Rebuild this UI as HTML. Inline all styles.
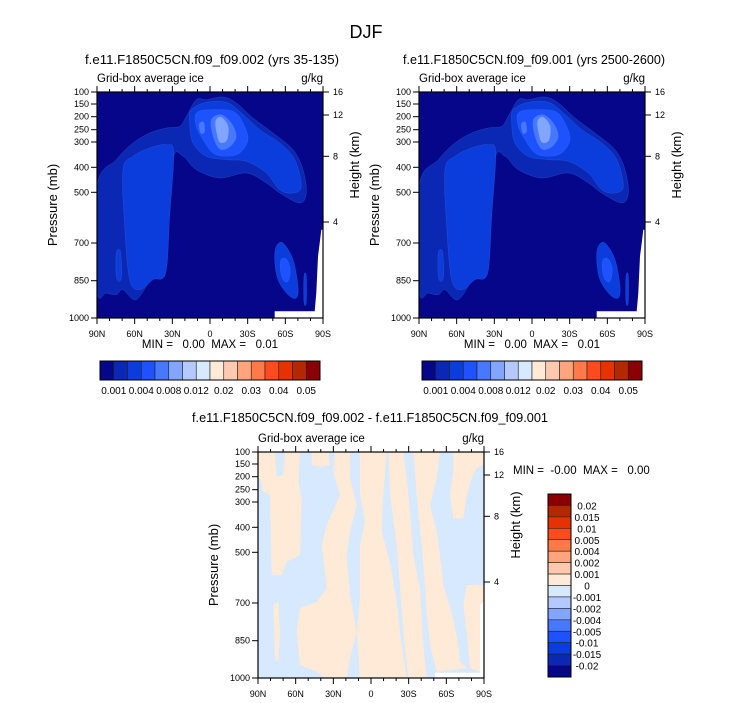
<!DOCTYPE html>
<html><head><meta charset="utf-8"><style>
html,body{margin:0;padding:0;background:#fff;}
svg{display:block;font-family:"Liberation Sans",sans-serif;}
.pre{white-space:pre;}
</style></head><body>
<svg id="s" width="733" height="703" viewBox="0 0 733 703">
<text x="366" y="38" font-size="18" text-anchor="middle">DJF</text>
</svg>
<script>
const NS='http://www.w3.org/2000/svg';
const svg=document.getElementById('s');
// ---- data arrays ----
const pressureTicks=[100,150,200,250,300,400,500,700,850,1000];
const heightTicks=[16,12,8,4];
const latTicks=['90N','60N','30N','0','30S','60S','90S'];
const absColors=['#06068a','#0a28b4','#0a3ddc','#1e52ff','#4679ff','#82a6ff','#b4c9ff','#d7e9ff','#ffe9d7','#ffc9b0','#ffa47d','#ff7a48','#ff4b1e','#e53200','#b42800','#8b0000'];
const absLabels=['0.001','0.004','0.008','0.012','0.02','0.03','0.04','0.05'];
const diffLabels=['0.02','0.015','0.01','0.005','0.004','0.002','0.001','0','-0.001','-0.002','-0.004','-0.005','-0.01','-0.015','-0.02'];
const absRegions=[
 {lv:1,pts:[[172,380],[230,300],[280,250],[330,220],[380,205],[420,200],[440,170],[470,120],[500,120],[550,112],[590,130],[640,175],[700,220],[760,270],[790,330],[800,400],[780,430],[720,400],[680,370],[620,340],[540,355],[470,330],[430,290],[400,300],[380,550],[375,640],[340,650],[290,720],[250,690],[230,705],[200,700],[172,690]]},
 {lv:2,pts:[[250,330],[280,290],[330,265],[380,255],[402,280],[390,470],[378,640],[340,660],[300,690],[270,660],[255,500]]},
 {lv:2,pts:[[455,150],[500,128],[560,128],[605,160],[660,210],[720,250],[765,300],[785,380],[760,400],[720,390],[680,340],[620,305],[560,300],[500,290],[460,250],[450,190]]},
 {lv:2,pts:[[230,580],[242,575],[246,640],[240,665],[230,650]]},
 {lv:2,pts:[[710,560],[730,550],[760,600],[775,680],[770,715],[745,705],[715,660],[705,600]]},
 {lv:2,pts:[[793,650],[800,648],[800,728],[793,728]]},
 {lv:3,pts:[[470,160],[510,150],[580,155],[610,190],[625,240],[600,280],[560,290],[520,280],[490,240],[470,200]]},
 {lv:3,pts:[[724,600],[740,598],[752,630],[745,665],[730,660],[722,630]]},
 {lv:4,pts:[[480,190],[492,188],[495,215],[485,222],[479,205]]},
 {lv:4,pts:[[515,180],[545,165],[575,190],[590,230],[570,262],[540,268],[520,230]]},
 {lv:5,pts:[[528,182],[545,172],[566,200],[562,242],[540,248],[529,212]]}
];
const absMissing=[[852,510],[845,510],[840,550],[835,590],[830,700],[825,755],[705,755],[705,777],[852,777]];
const diffPeach=[
 [[24,21],[75,21],[80,95],[100,90],[105,21],[150,21],[145,110],[155,160],[150,330],[110,350],[95,390],[65,390],[60,150],[40,140],[30,100],[24,100]],
 [[185,21],[235,21],[240,60],[215,65],[185,60]],
 [[255,21],[300,21],[300,100],[320,180],[300,260],[290,330],[300,450],[320,560],[300,640],[290,700],[225,700],[200,680],[150,660],[140,560],[150,490],[200,470],[230,430],[215,300],[230,240],[270,150],[250,80]],
 [[330,21],[410,21],[400,150],[395,260],[420,350],[440,470],[450,560],[470,700],[330,700],[320,560],[330,460],[330,300],[345,230],[330,150]],
 [[415,21],[460,21],[470,100],[480,200],[490,330],[510,430],[520,600],[530,700],[475,700],[460,560],[450,420],[440,300],[420,150]],
 [[490,21],[570,21],[560,100],[540,180],[560,260],[570,330],[580,420],[610,520],[625,600],[630,650],[650,670],[560,680],[540,600],[530,500],[520,360],[510,250],[500,150]],
 [[610,21],[700,21],[700,60],[680,70],[665,100],[650,150],[640,220],[610,220],[600,150],[610,80]],
 [[650,420],[700,420],[700,480],[690,500],[690,680],[660,670],[650,560],[640,480]],
 [[70,480],[85,470],[90,560],[85,650],[75,640]]
];
const diffMissing=[[700,470],[690,480],[690,683],[555,683],[555,701],[700,701]];

function el(tag,attrs,parent){const e=document.createElementNS(NS,tag);for(const k in attrs)e.setAttribute(k,attrs[k]);(parent||svg).appendChild(e);return e;}
function smoothPath(p){let d='M'+p[0][0].toFixed(1)+','+p[0][1].toFixed(1);const n=p.length;
 for(let i=0;i<n;i++){const p0=p[(i-1+n)%n],p1=p[i],p2=p[(i+1)%n],p3=p[(i+2)%n];
  d+='C'+(p1[0]+(p2[0]-p0[0])/6).toFixed(1)+','+(p1[1]+(p2[1]-p0[1])/6).toFixed(1)+' '+(p2[0]-(p3[0]-p1[0])/6).toFixed(1)+','+(p2[1]-(p3[1]-p1[1])/6).toFixed(1)+' '+p2[0].toFixed(1)+','+p2[1].toFixed(1);}
 return d+'Z';}
function polyPath(p){return 'M'+p.map(q=>q[0].toFixed(1)+','+q[1].toFixed(1)).join('L')+'Z';}
const S=226;
const pRef=[[100,0],[150,12],[200,24.7],[250,37.7],[300,50],[400,75.3],[500,100.3],[700,151],[850,188.7],[1000,226]];
function yP(v){for(let i=0;i<pRef.length-1;i++){if(v<=pRef[i+1][0]){const a=pRef[i],b=pRef[i+1];return a[1]+(b[1]-a[1])*(v-a[0])/(b[0]-a[0]);}}return S;}
const hRef={16:0,12:23,8:64.3,4:130};
function yH(v){return hRef[v];}
function xLat(i){return i*S/6;}

function panel(ox,oy,name,drawFill,titleTxt,titleX,titleY,titleLen){
 const g=el('g',{transform:'translate('+ox+','+oy+')',});
 const clip=el('clipPath',{id:name+'-clip'},g);el('rect',{x:0,y:0,width:S,height:S},clip);
 const fg=el('g',{'clip-path':'url(#'+name+'-clip)',},g);
 drawFill(fg);
 el('rect',{x:0,y:0,width:S,height:S,fill:'none',stroke:'#000','stroke-width':1.2,},g);
 for(let i=0;i<=18;i++){const x=i*S/18;const major=i%3===0;
  el('line',{x1:x,y1:S,x2:x,y2:S+(major?6:3),stroke:'#000','stroke-width':1},g);
  el('line',{x1:x,y1:0,x2:x,y2:-(major?6:3),stroke:'#000','stroke-width':1},g);}
 latTicks.forEach((t,i)=>{const tx=el('text',{x:xLat(i),y:S+19,'font-size':9,'text-anchor':'middle',},g);tx.textContent=t;});
 pressureTicks.forEach(v=>{const y=yP(v);el('line',{x1:-6,y1:y,x2:0,y2:y,stroke:'#000','stroke-width':1},g);
  const tx=el('text',{x:-8,y:y+3,'font-size':9,'text-anchor':'end',},g);tx.textContent=v;});
 heightTicks.forEach(v=>{const y=yH(v);el('line',{x1:S,y1:y,x2:S+6,y2:y,stroke:'#000','stroke-width':1},g);
  const tx=el('text',{x:S+10,y:y+3,'font-size':9,},g);tx.textContent=v;});
 let t=el('text',{x:-40,y:S/2,'font-size':13,'text-anchor':'middle',transform:'rotate(-90 -40 '+(S/2)+')',},g);t.textContent='Pressure (mb)';
 t=el('text',{x:S+36,y:S/2-40,'font-size':13,'text-anchor':'middle',transform:'rotate(-90 '+(S+36)+' '+(S/2-40)+')',},g);t.textContent='Height (km)';
 t=el('text',{x:0,y:-10,'font-size':11.5,},g);t.textContent='Grid-box average ice';
 t=el('text',{x:S,y:-10,'font-size':11.5,'text-anchor':'end',},g);t.textContent='g/kg';
 t=el('text',{x:titleX,y:titleY,'font-size':13,'text-anchor':'middle',textLength:titleLen,lengthAdjust:'spacingAndGlyphs',});t.textContent=titleTxt;
 return g;
}
function absFill(fg){
 el('rect',{x:0,y:0,width:S,height:S,fill:absColors[0]},fg);
 absRegions.forEach(r=>{const p=r.pts.map(q=>[(q[0]-172)/3,(q[1]-97)/3]);
  const e=el('path',{d:smoothPath(p),fill:absColors[r.lv],stroke:'#5a78d8','stroke-width':0.4,'stroke-opacity':0.5},fg);
  
  });
 el('path',{d:polyPath(absMissing.map(q=>[(q[0]-172)/3,(q[1]-97)/3])),fill:'#fff',},fg);
}
function diffFill(fg){
 el('rect',{x:0,y:0,width:S,height:S,fill:absColors[7]},fg);
 diffPeach.forEach(pp=>{const p=pp.map(q=>[(q[0]-24)/3,(q[1]-21)/3]);
  const e=el('path',{d:polyPath(p),fill:absColors[8]},fg);
  
  });
 el('path',{d:polyPath(diffMissing.map(q=>[(q[0]-24)/3,(q[1]-21)/3])),fill:'#fff',},fg);
}
function absColorbar(x0,name){
 const g=el('g',{});const w=220/16;
 absColors.forEach((c,i)=>{const r=el('rect',{x:x0+i*w,y:361,width:w,height:19,fill:c,stroke:'#222','stroke-width':0.6},g);
  });
 el('rect',{x:x0,y:361,width:220,height:19,fill:'none',stroke:'#000','stroke-width':1},g);
 absLabels.forEach((l,k)=>{const t=el('text',{x:x0+(2*k+1)*w,y:394,'font-size':10,'text-anchor':'middle',},g);t.textContent=l;});
}
function minmax(x,y,txt,anchor){const t=el('text',{x:x,y:y,'font-size':11.5,'text-anchor':anchor,'class':'pre',});t.textContent=txt;}

panel(97,92,'panel-case1',absFill,'f.e11.F1850C5CN.f09_f09.002 (yrs 35-135)',212,64,254);
panel(419,92,'panel-case2',absFill,'f.e11.F1850C5CN.f09_f09.001 (yrs 2500-2600)',534,64,262);
panel(258,452,'panel-difference',diffFill,'f.e11.F1850C5CN.f09_f09.002 - f.e11.F1850C5CN.f09_f09.001',370,422,356);
minmax(210,348,'MIN =   0.00  MAX =   0.01','middle');
minmax(532,348,'MIN =   0.00  MAX =   0.01','middle');
minmax(513,474,'MIN =  -0.00  MAX =   0.00','start');
absColorbar(100,'colorbar-case1');
absColorbar(422,'colorbar-case2');
(function(){const g=el('g',{});const h=183/16;
 for(let i=0;i<16;i++){const r=el('rect',{x:548,y:494+i*h,width:23,height:h,fill:absColors[15-i],stroke:'#222','stroke-width':0.6},g);
  }
 el('rect',{x:548,y:494,width:23,height:183,fill:'none',stroke:'#000','stroke-width':1},g);
 diffLabels.forEach((l,k)=>{const t=el('text',{x:587,y:494+(k+1)*h+4,'font-size':10,'text-anchor':'middle',},g);t.textContent=l;});
})();
</script>
</body></html>
